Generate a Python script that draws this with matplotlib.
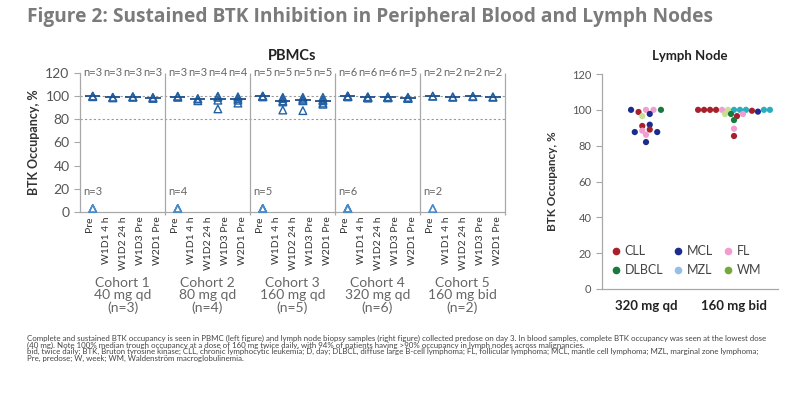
import numpy as np
import matplotlib.pyplot as plt
from matplotlib.lines import Line2D

plt.rcParams['font.family'] = ['Lato', 'DejaVu Sans']

# PBMC data
timepoints = ['Pre', 'W1D1 4 h', 'W1D2 24 h', 'W1D3 Pre', 'W2D1 Pre']
cohorts = ['Cohort 1\n40 mg qd\n(n=3)', 'Cohort 2\n80 mg qd\n(n=4)',
           'Cohort 3\n160 mg qd\n(n=5)', 'Cohort 4\n320 mg qd\n(n=6)',
           'Cohort 5\n160 mg bid\n(n=2)']
pre_values = [[3, 3, 3], [3, 3, 3, 3], [3, 3, 3, 3, 3], [3, 3, 3, 3, 3, 3], [3, 3]]
post_values = [
    [[100, 100, 99.5], [99, 98.5, 99], [99.5, 99, 99.5], [98.5, 98, 99]],
    [[99, 100, 99.5], [96, 97.5, 98], [100, 99, 96.5, 89], [99.5, 98, 96.5, 94]],
    [[100, 100, 99.5, 100, 99.5], [99, 98, 96, 95, 88], [99, 97.5, 96.5, 96, 87.5],
     [99, 97, 96, 94, 93]],
    [[100, 100, 99.5, 100, 100, 99.5], [99, 99.5, 98.5, 99, 99, 98.5],
     [99, 99, 99.5, 98.5, 99, 99], [98.5, 98, 99, 98.5, 98]],
    [[100, 100], [99.5, 99], [100, 99.5], [99.5, 99]],
]

# Lymph node data
ln_groups = ['320 mg qd', '160 mg bid']
ln_320_type = ['MCL', 'CLL', 'FL', 'FL', 'DLBCL', 'WM', 'MCL', 'CLL', 'MCL',
               'MCL', 'FL', 'CLL', 'MCL', 'FL', 'MCL']
ln_320_value = [100, 98.8, 100, 100, 100, 96.5, 97.7, 91, 91.7,
                87.6, 88.4, 89, 87.6, 86.1, 82]
ln_160_type = ['CLL', 'CLL', 'CLL', 'CLL', 'FL', 'WM', 'MZL', 'MZL', 'MZL', 'CLL',
               'MCL', 'MZL', 'MZL', 'WM', 'DLBCL', 'CLL', 'FL', 'DLBCL', 'FL', 'CLL']
ln_160_value = [100, 100, 100, 100, 100, 100, 100, 100, 100, 99.5,
                99, 100, 100, 97.7, 97.7, 96.5, 97.7, 94.3, 89.5, 85.4]
legend_order = ['CLL', 'DLBCL', 'MCL', 'MZL', 'FL', 'WM']
point_colors = {'CLL': '#a8202c', 'MCL': '#1c2c8e', 'FL': '#ee9fcf',
                'DLBCL': '#187a3c', 'MZL': '#2aaebf', 'WM': '#c6df92'}
legend_colors = {'CLL': '#a8202c', 'MCL': '#1c2c8e', 'FL': '#ee9fcf',
                 'DLBCL': '#187a3c', 'MZL': '#96bfe8', 'WM': '#74a83a'}

grey = '#a8a8a8'
fig = plt.figure(figsize=(8, 3.99), dpi=100)
fig.text(27/800, 1 - 17/399,
         'Figure 2: Sustained BTK Inhibition in Peripheral Blood and Lymph Nodes',
         fontsize=13.8, weight='bold', color='#7b7b7b', ha='left', va='center',
         family=['Open Sans', 'DejaVu Sans'])

# ---- PBMC panel
ax1 = fig.add_axes([0.1, 0.4687, 0.53125, 0.3484])
ax1.set_xlim(0, 25)
ax1.set_ylim(0, 120)
for y in (100, 80):
    ax1.axhline(y, color='#9a9a9a', ls=(0, (2, 2)), lw=0.8, zorder=1)

ticks = []
for c in range(len(cohorts)):
    base = 5 * c
    ticks += [base + 0.55 + k for k in range(len(timepoints))]
    px = base + 0.75
    pre = pre_values[c]
    ax1.scatter([px] * len(pre), pre, marker='^', s=30, facecolors='none',
                edgecolors='#4b8ac8', linewidths=1.0, clip_on=False, zorder=3)
    ax1.text(px, 17.5, f'n={len(pre)}', ha='center', va='center',
             fontsize=8, color='#666666')
    for k, vals in enumerate(post_values[c]):
        x = base + 0.75 + 1.18 * k
        ax1.scatter([x] * len(vals), vals, marker='^', s=30, facecolors='none',
                    edgecolors='#2361a5', linewidths=1.0, zorder=3)
        ax1.hlines(np.median(vals), x - 0.45, x + 0.45, color='#1d4f8c', lw=1.3, zorder=4)
        ax1.text(x, 120, f'n={len(vals)}', ha='center', va='center',
                 fontsize=8, color='#666666', clip_on=False)
    ax1.vlines(base + 5, -3, 120, color=grey, lw=0.9, clip_on=False)
    ax1.annotate(cohorts[c], xy=(base + 2.5, -0.465), xycoords=('data', 'axes fraction'),
                 ha='center', va='top', fontsize=10, color='#666666', linespacing=1.05)

ax1.set_xticks(ticks)
ax1.set_xticklabels(timepoints * len(cohorts), rotation=90, fontsize=7.5, color='#333333')
ax1.tick_params(axis='x', length=0, pad=3)
ax1.set_yticks(range(0, 121, 20))
ax1.tick_params(axis='y', labelsize=10, labelcolor='#555555', length=4, color=grey)
for s in ('top', 'right'):
    ax1.spines[s].set_visible(False)
for s in ('left', 'bottom'):
    ax1.spines[s].set_color(grey)
    ax1.spines[s].set_linewidth(0.9)
ax1.set_ylabel('BTK Occupancy, %', fontsize=9, weight='bold', color='#333333')
ax1.yaxis.set_label_coords(-0.094, 0.5)
ax1.text(0.5, 1.122, 'PBMCs', transform=ax1.transAxes, ha='center', va='center',
         fontsize=10.5, weight='bold', color='#222222')

# ---- Lymph node panel
ax2 = fig.add_axes([0.7525, 0.2757, 0.22, 0.5388])
ax2.set_xlim(0, 4)
ax2.set_ylim(0, 120)


def row_offsets(values, step, d):
    # bin the values into rows and spread each row around the centre
    bins = np.floor((100 - np.asarray(values)) / step + 0.5)
    offs = np.zeros(len(values))
    for b in np.unique(bins):
        idx = np.where(bins == b)[0]
        offs[idx] = (np.arange(len(idx)) - (len(idx) - 1) / 2) * d
    return offs


for gx, types, vals, d in [(1, ln_320_type, ln_320_value, 0.17),
                           (3, ln_160_type, ln_160_value, 0.136)]:
    xs = gx + row_offsets(vals, 3.07, d)
    ax2.scatter(xs, vals, s=20, c=[point_colors[t] for t in types],
                edgecolors='none', zorder=3)

ax2.set_xticks([1, 3])
ax2.set_xticklabels(ln_groups, fontsize=9.5, weight='bold', color='#222222')
ax2.tick_params(axis='x', length=0, pad=8)
ax2.set_yticks(range(0, 121, 20))
ax2.tick_params(axis='y', labelsize=8, labelcolor='#555555', length=4, color=grey)
for s in ('top', 'right'):
    ax2.spines[s].set_visible(False)
for s in ('left', 'bottom'):
    ax2.spines[s].set_color(grey)
    ax2.spines[s].set_linewidth(0.9)
ax2.set_ylabel('BTK Occupancy, %', fontsize=8.5, weight='bold', color='#333333')
ax2.yaxis.set_label_coords(-0.25, 0.5)
ax2.text(0.5, 1.084, 'Lymph Node', transform=ax2.transAxes, ha='center', va='center',
         fontsize=9.5, weight='bold', color='#222222')

handles = [Line2D([], [], marker='o', ls='', color=legend_colors[t], markersize=4.5)
           for t in legend_order]
ax2.legend(handles, legend_order, ncol=3, loc='lower left', bbox_to_anchor=(0.0, 0.02),
           frameon=False, fontsize=9, handlelength=0.8, handletextpad=0.3,
           columnspacing=0.8, labelspacing=0.55, labelcolor='#444444', borderpad=0.2)

footnote = ('Complete and sustained BTK occupancy is seen in PBMC (left figure) and lymph node biopsy '
            'samples (right figure) collected predose on day 3. In blood samples, complete BTK occupancy '
            'was seen at the lowest dose\n'
            '(40 mg). Note 100% median trough occupancy at a dose of 160 mg twice daily, with 94% of '
            'patients having >90% occupancy in lymph nodes across malignancies.\n'
            'bid, twice daily; BTK, Bruton tyrosine kinase; CLL, chronic lymphocytic leukemia; D, day; '
            'DLBCL, diffuse large B-cell lymphoma; FL, follicular lymphoma; MCL, mantle cell lymphoma; '
            'MZL, marginal zone lymphoma;\n'
            'Pre, predose; W, week; WM, Waldenstr\u00f6m macroglobulinemia.')
fig.text(27/800, 1 - 335/399, footnote, fontsize=5.7, color='#444444',
         ha='left', va='top', linespacing=0.9)

fig.savefig('out.png', dpi=100)
